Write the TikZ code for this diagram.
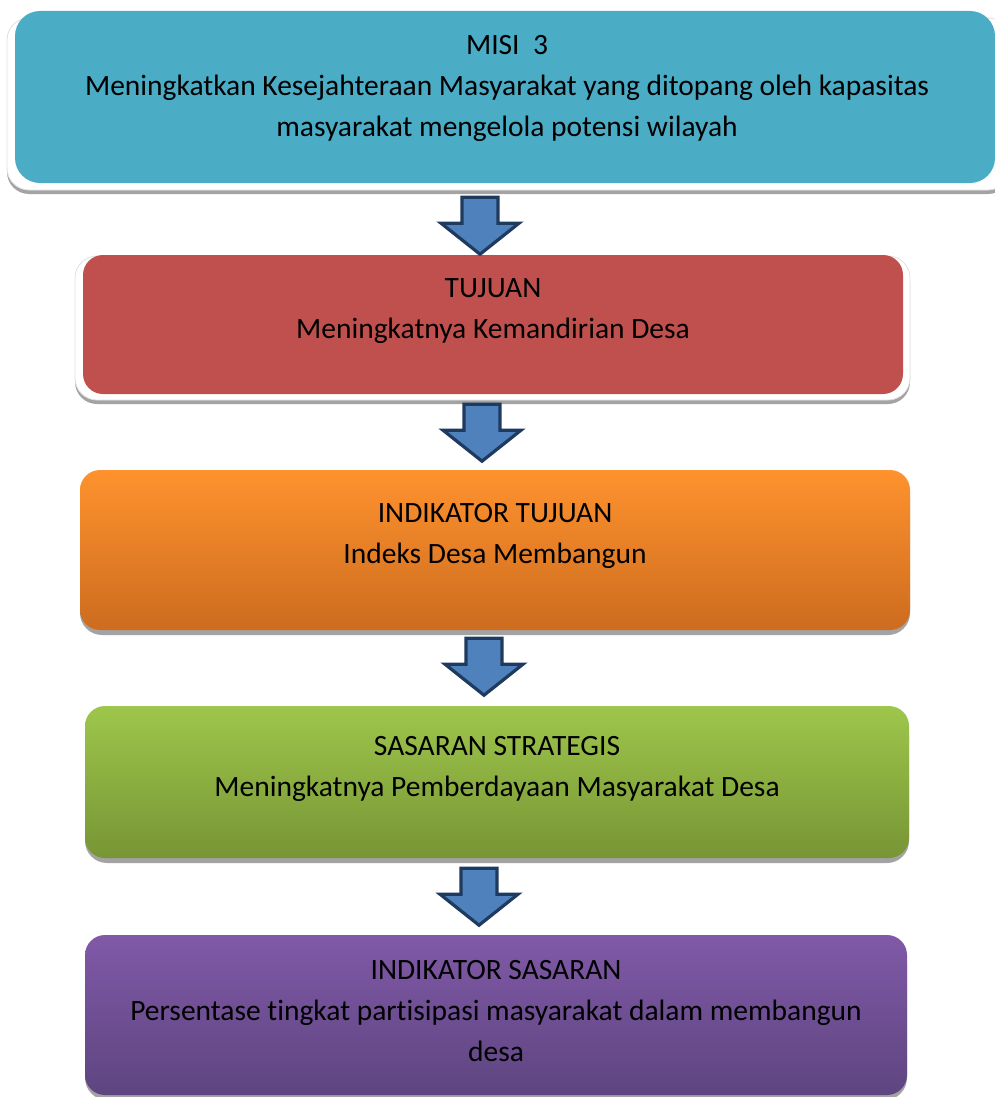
\documentclass[tikz,border=0pt]{standalone}
\usepackage{fontspec}
\setmainfont[RawFeature={-liga;-clig}]{Carlito}
\usetikzlibrary{calc}
\definecolor{cBlue}{HTML}{4BACC6}
\definecolor{cRed}{HTML}{C0504D}
\definecolor{cOrTop}{HTML}{FE922E}
\definecolor{cOrBot}{HTML}{CD6C1F}
\definecolor{cGrTop}{HTML}{9EC64B}
\definecolor{cGrBot}{HTML}{779535}
\definecolor{cPuTop}{HTML}{8059A7}
\definecolor{cPuBot}{HTML}{5E4580}
\definecolor{cArrow}{HTML}{4F81BD}
\definecolor{cArrowLine}{HTML}{1F3A5F}
\definecolor{cShadow}{HTML}{A3A3A3}
\tikzset{
  box/.style={draw=none, rounded corners=20pt, inner sep=0pt},
  frame/.style={fill=white, draw=black!12, line width=0.8pt, rounded corners=22pt},
  shadowbox/.style={fill=cShadow, rounded corners=22pt},
  txt/.style={align=center, inner sep=0pt, font=\fontsize{29.5}{41}\selectfont, text=black},
  arrowshape/.style={fill=cArrow, draw=cArrowLine, line width=3.2pt, line join=miter},
  blockarrow/.pic={\draw[arrowshape] (-18,0) -- (18,0) -- (18,26) -- (39,26) -- (0,57) -- (-39,26) -- (-18,26) -- cycle;}
}
\begin{document}
\begin{tikzpicture}[x=1pt,y=-1pt]
\useasboundingbox (0,0) rectangle (995,1097);
% ---- box 1 (MISI 3) ----
\fill[shadowbox] (7,22) rectangle (1010,194);
\draw[frame] (7,18) rectangle (1010,190);
\node[box, fill=cBlue, rounded corners=25pt, minimum width=980pt, minimum height=172pt] (misi) at (505,97) {};
\node[txt] (misitxt) at (507,88) {MISI\ \ 3\\Meningkatkan Kesejahteraan Masyarakat yang ditopang oleh kapasitas\\masyarakat mengelola potensi wilayah};
% ---- box 2 (TUJUAN) ----
\fill[shadowbox] (75,260) rectangle (910,404);
\draw[frame] (75,256) rectangle (910,400);
\node[box, fill=cRed, minimum width=820pt, minimum height=139pt] (tujuan) at (493,324.5) {};
\node[txt] (tujuantxt) at (493,311.5) {TUJUAN\\Meningkatnya Kemandirian Desa};
% ---- box 3 (INDIKATOR TUJUAN) ----
\fill[shadowbox] (80,476) rectangle (910,635);
\node[box, top color=cOrTop, bottom color=cOrBot, minimum width=830pt, minimum height=160pt] (indtujuan) at (495,550) {};
\node[txt] (indtujuantxt) at (495,536) {INDIKATOR TUJUAN\\Indeks Desa Membangun};
% ---- box 4 (SASARAN STRATEGIS) ----
\fill[shadowbox] (85,712) rectangle (909,863);
\node[box, top color=cGrTop, bottom color=cGrBot, minimum width=824pt, minimum height=152pt] (sasaran) at (497,782) {};
\node[txt] (sasarantxt) at (497,768.5) {SASARAN STRATEGIS\\Meningkatnya Pemberdayaan Masyarakat Desa};
% ---- box 5 (INDIKATOR SASARAN) ----
\fill[shadowbox] (85,941) rectangle (907,1100);
\node[box, top color=cPuTop, bottom color=cPuBot, minimum width=822pt, minimum height=160pt] (indsasaran) at (496,1015) {};
\node[txt] (indsasarantxt) at (496,1011.5) {INDIKATOR SASARAN\\Persentase tingkat partisipasi masyarakat dalam membangun\\desa};
% ---- block arrows ----
\coordinate (a1) at ($(misi.south)+(-25,14)$);
\coordinate (a2) at ($(tujuan.south)+(-11,10)$);
\coordinate (a3) at ($(indtujuan.south)+(-11,8)$);
\coordinate (a4) at ($(sasaran.south)+(-18,10)$);
\pic at (a1) {blockarrow};
\pic at (a2) {blockarrow};
\pic at (a3) {blockarrow};
\pic at (a4) {blockarrow};
\end{tikzpicture}
\end{document}
